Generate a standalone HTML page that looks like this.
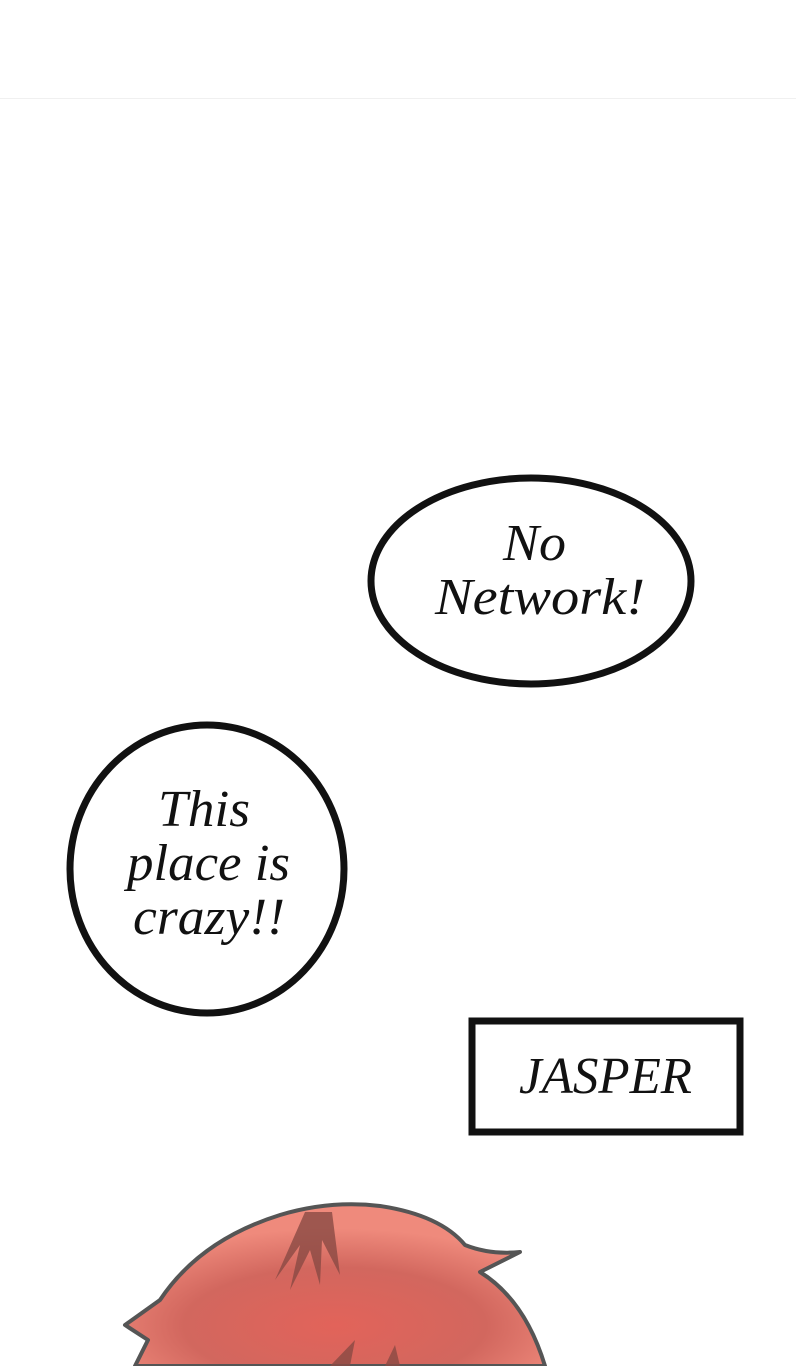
<!DOCTYPE html>
<html><head><style>
html,body{margin:0;padding:0;background:#fff;}
svg{display:block;}
</style></head><body>
<svg width="796" height="1366" viewBox="0 0 796 1366" xmlns="http://www.w3.org/2000/svg">
<defs>
<radialGradient id="h" cx="0.5" cy="0.75" r="0.6">
<stop offset="0" stop-color="#e2635a"/>
<stop offset="0.6" stop-color="#d2675e"/>
<stop offset="1" stop-color="#ef8a7c"/>
</radialGradient>
</defs>
<rect width="796" height="1366" fill="#fff"/>
<line x1="0" y1="98.5" x2="796" y2="98.5" stroke="#f0f0f0" stroke-width="1"/>
<ellipse cx="531" cy="581" rx="160" ry="103" fill="#fff" stroke="#111" stroke-width="7"/>
<g font-family="Liberation Serif, serif" font-style="italic" font-size="52" fill="#111">
<text x="503" y="560" textLength="63" lengthAdjust="spacingAndGlyphs">No</text>
<text x="435" y="614" textLength="210" lengthAdjust="spacingAndGlyphs">Network!</text>
<text x="158" y="826" textLength="92" lengthAdjust="spacingAndGlyphs">This</text>
<text x="127" y="880" textLength="163" lengthAdjust="spacingAndGlyphs">place is</text>
<text x="133" y="934" textLength="152" lengthAdjust="spacingAndGlyphs">crazy!!</text>
<text x="519" y="1093" textLength="173" lengthAdjust="spacingAndGlyphs">JASPER</text>
</g>
<ellipse cx="207" cy="869" rx="137" ry="144" fill="none" stroke="#111" stroke-width="7"/>
<rect x="472" y="1021" width="268" height="111" fill="none" stroke="#111" stroke-width="7"/>
<path d="M125,1325 L160,1300 Q200,1240 280,1215 Q330,1200 380,1206 Q440,1215 465,1245 Q490,1255 520,1252 L480,1272 Q525,1300 545,1366 L135,1366 L148,1340 Z" fill="url(#h)" stroke="#555" stroke-width="4" stroke-linejoin="round"/>
<g fill="#8a4a44" opacity="0.8">
<path d="M305,1212 L275,1280 L300,1245 L290,1290 L310,1250 L320,1285 L322,1240 L340,1275 L332,1212 Z"/>
<path d="M330,1366 L355,1340 L350,1366 Z"/>
<path d="M385,1366 L395,1345 L400,1366 Z"/>
</g>
</svg>
</body></html>
